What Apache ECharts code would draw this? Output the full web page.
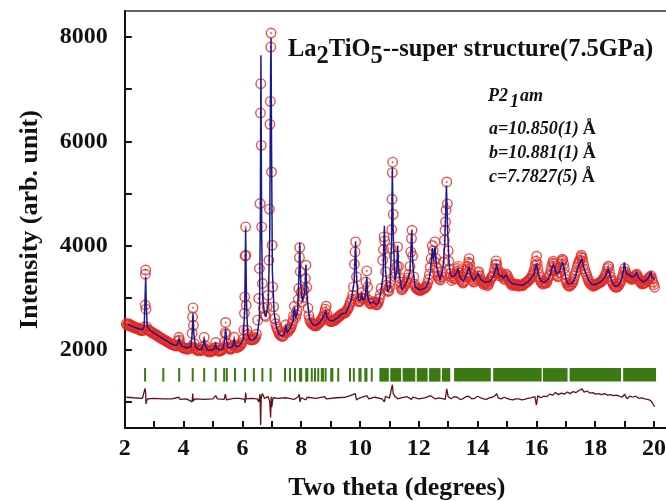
<!DOCTYPE html>
<html>
<head>
<meta charset="utf-8">
<script src="https://cdn.jsdelivr.net/npm/echarts@6/dist/echarts.min.js"></script>
<style>
  html, body { margin: 0; padding: 0; background: #fff; }
  #chart { width: 666px; height: 501px; }
</style>
</head>
<body>
<div id="chart"></div>
<script>
// ---- Synchrotron XRD profile of La2TiO5 (7.5 GPa), Rietveld fit ----

// Observed intensity: [2θ (deg), counts]
const observed = [
  [2.05,2500],[2.08,2470],[2.11,2500],[2.14,2470],[2.17,2490],[2.20,2450],[2.23,2470],[2.26,2440],[2.29,2450],[2.32,2420],
  [2.35,2440],[2.38,2410],[2.41,2420],[2.44,2400],[2.47,2410],[2.50,2380],[2.53,2400],[2.56,2370],[2.59,2390],[2.62,2370],
  [2.65,2440],[2.695,2860],[2.70,3450],[2.71,3530],[2.72,2780],[2.74,2440],[2.77,2390],[2.80,2380],[2.83,2370],[2.86,2360],
  [2.89,2340],[2.92,2340],[2.95,2320],[2.98,2320],[3.01,2300],[3.04,2300],[3.07,2280],[3.10,2280],[3.13,2260],[3.16,2250],
  [3.19,2240],[3.22,2230],[3.25,2220],[3.28,2210],[3.31,2200],[3.34,2190],[3.37,2180],[3.40,2170],[3.43,2160],[3.46,2150],
  [3.49,2140],[3.52,2130],[3.55,2120],[3.58,2110],[3.61,2100],[3.64,2100],[3.67,2090],[3.70,2080],[3.73,2080],[3.76,2070],
  [3.79,2100],[3.82,2170],[3.84,2240],[3.86,2190],[3.89,2100],[3.92,2060],[3.95,2050],[3.98,2040],[4.01,2030],[4.04,2030],
  [4.07,2020],[4.10,2020],[4.13,2010],[4.16,2020],[4.19,2030],[4.22,2030],[4.25,2060],[4.29,2320],[4.305,2630],[4.32,2805],
  [4.335,2470],[4.36,2120],[4.39,2040],[4.42,2010],[4.45,2000],[4.48,1990],[4.51,1990],[4.54,1980],[4.57,1990],[4.60,1990],
  [4.63,2010],[4.66,2060],[4.70,2240],[4.73,2080],[4.76,2010],[4.79,1990],[4.82,1970],[4.85,1970],[4.88,1960],[4.91,1960],
  [4.94,1970],[4.97,1980],[5.00,1990],[5.03,2000],[5.06,2040],[5.09,2140],[5.12,2040],[5.15,1990],[5.18,1980],[5.21,1970],
  [5.24,1980],[5.27,1990],[5.30,2000],[5.33,2010],[5.36,2040],[5.39,2150],[5.41,2330],[5.43,2525],[5.45,2300],[5.47,2120],
  [5.50,2050],[5.53,2030],[5.56,2020],[5.59,2010],[5.62,2020],[5.65,2030],[5.68,2070],[5.72,2240],[5.75,2100],[5.78,2060],
  [5.81,2040],[5.84,2050],[5.87,2060],[5.90,2070],[5.93,2090],[5.96,2110],[5.99,2140],[6.02,2200],[6.05,2380],[6.07,2700],
  [6.08,3016],[6.09,3800],[6.11,4358],[6.12,3815],[6.13,2856],[6.15,2377],[6.18,2290],[6.21,2240],[6.24,2210],[6.27,2200],
  [6.30,2190],[6.33,2190],[6.36,2200],[6.39,2200],[6.42,2220],[6.45,2240],[6.48,2300],[6.52,2569],[6.555,2985],[6.58,3560],
  [6.60,4806],[6.615,6543],[6.625,7106],[6.64,5923],[6.655,4358],[6.68,3272],[6.72,2799],[6.76,2660],[6.80,2640],[6.84,2824],
  [6.87,3048],[6.90,3719],[6.92,4700],[6.935,6326],[6.95,6767],[6.965,7808],[6.975,8077],[6.99,5412],[7.01,4007],[7.03,3207],
  [7.06,2824],[7.10,2600],[7.13,2500],[7.16,2440],[7.19,2400],[7.22,2350],[7.25,2310],[7.28,2290],[7.31,2270],[7.34,2260],
  [7.37,2260],[7.40,2270],[7.44,2330],[7.48,2480],[7.51,2380],[7.54,2340],[7.57,2370],[7.60,2390],[7.63,2410],[7.66,2440],
  [7.69,2500],[7.72,2560],[7.74,2650],[7.77,2837],[7.81,2620],[7.84,2680],[7.86,2750],[7.90,2965],[7.92,3176],[7.94,3770],
  [7.95,3962],[7.97,3500],[8.00,3100],[8.04,2920],[8.07,3000],[8.10,3150],[8.14,3368],[8.16,3623],[8.19,3200],[8.23,2800],
  [8.26,2660],[8.29,2580],[8.32,2530],[8.35,2510],[8.38,2490],[8.41,2480],[8.44,2470],[8.47,2460],[8.50,2460],[8.53,2470],
  [8.56,2490],[8.59,2500],[8.62,2520],[8.65,2540],[8.68,2570],[8.71,2600],[8.74,2630],[8.77,2660],[8.80,2720],[8.82,2780],
  [8.85,2837],[8.88,2680],[8.91,2610],[8.94,2570],[8.97,2560],[9.00,2540],[9.03,2540],[9.06,2550],[9.09,2560],[9.12,2560],
  [9.15,2570],[9.18,2590],[9.21,2600],[9.24,2620],[9.27,2630],[9.30,2640],[9.33,2660],[9.36,2680],[9.39,2690],[9.42,2700],
  [9.45,2700],[9.48,2710],[9.51,2720],[9.54,2740],[9.57,2770],[9.60,2800],[9.63,2840],[9.66,2890],[9.69,2930],[9.72,2970],
  [9.75,3050],[9.78,3207],[9.81,3642],[9.83,3878],[9.85,4070],[9.88,3400],[9.91,2985],[9.94,2940],[9.97,2920],[10.00,2940],
  [10.03,2990],[10.06,3100],[10.09,3000],[10.12,2980],[10.16,3050],[10.20,3300],[10.23,3514],[10.26,3200],[10.30,2950],[10.33,2900],
  [10.36,2880],[10.39,2890],[10.42,2900],[10.45,2920],[10.48,2920],[10.51,2890],[10.54,2870],[10.57,2860],[10.60,2880],[10.63,2920],
  [10.66,2980],[10.69,3060],[10.72,3180],[10.77,3719],[10.80,3924],[10.82,4166],[10.84,4089],[10.87,3500],[10.90,3240],[10.92,3150],
  [10.95,3120],[10.98,3130],[11.01,3200],[11.03,3300],[11.06,3943],[11.08,4307],[11.09,4888],[11.10,5400],[11.11,5600],[11.13,4600],
  [11.16,3800],[11.20,3400],[11.23,3480],[11.25,3600],[11.28,3974],[11.31,3600],[11.34,3380],[11.36,3300],[11.39,3200],[11.42,3150],
  [11.45,3170],[11.48,3200],[11.51,3230],[11.54,3260],[11.57,3290],[11.60,3330],[11.63,3380],[11.66,3450],[11.70,3600],[11.73,3878],
  [11.75,4135],[11.77,4294],[11.79,3800],[11.83,3400],[11.86,3260],[11.88,3210],[11.91,3190],[11.94,3170],[11.97,3160],[12.00,3150],
  [12.03,3140],[12.06,3140],[12.09,3150],[12.12,3160],[12.15,3170],[12.18,3180],[12.21,3190],[12.24,3200],[12.27,3230],[12.30,3280],
  [12.33,3350],[12.36,3450],[12.39,3580],[12.42,3750],[12.46,4000],[12.49,3900],[12.52,3700],[12.55,4070],[12.58,3750],[12.61,3580],
  [12.63,3500],[12.66,3420],[12.68,3380],[12.71,3350],[12.74,3340],[12.77,3400],[12.80,3500],[12.84,3686],[12.87,4102],[12.89,4294],
  [12.91,4453],[12.93,4678],[12.95,5220],[12.97,4800],[13.00,3900],[13.02,3700],[13.04,3550],[13.06,3460],
  [13.09,3400],[13.12,3330],[13.15,3380],[13.18,3420],[13.21,3360],[13.24,3380],[13.27,3450],[13.30,3500],[13.32,3560],[13.34,3600],
  [13.36,3520],[13.38,3480],[13.41,3400],[13.44,3350],[13.47,3310],[13.50,3280],[13.53,3300],[13.56,3330],[13.59,3400],[13.62,3480],
  [13.65,3540],[13.67,3600],[13.69,3680],[13.71,3750],[13.73,3650],[13.75,3550],[13.78,3460],[13.80,3400],[13.83,3340],[13.86,3300],
  [13.89,3310],[13.92,3350],[13.95,3380],[13.98,3420],[14.01,3480],[14.04,3500],[14.07,3420],[14.10,3350],[14.13,3320],[14.16,3300],
  [14.19,3270],[14.22,3250],[14.25,3280],[14.28,3290],[14.31,3260],[14.34,3230],[14.37,3260],[14.40,3300],[14.43,3340],[14.46,3380],
  [14.49,3400],[14.52,3420],[14.55,3480],[14.58,3560],[14.61,3640],[14.63,3706],[14.65,3640],[14.68,3550],[14.71,3470],[14.74,3420],
  [14.77,3450],[14.80,3480],[14.83,3440],[14.86,3400],[14.89,3370],[14.92,3350],[14.95,3400],[14.98,3450],[15.01,3420],[15.04,3380],
  [15.07,3340],[15.10,3300],[15.13,3270],[15.16,3240],[15.19,3260],[15.22,3270],[15.25,3250],[15.28,3230],[15.31,3250],[15.34,3260],
  [15.37,3240],[15.40,3220],[15.43,3240],[15.46,3250],[15.49,3240],[15.52,3230],[15.55,3240],[15.58,3260],[15.61,3280],[15.64,3290],
  [15.67,3300],[15.70,3310],[15.73,3330],[15.76,3350],[15.79,3360],[15.82,3380],[15.85,3420],[15.88,3450],[15.91,3500],[15.94,3550],
  [15.96,3620],[15.98,3700],[16.01,3796],[16.03,3650],[16.05,3550],[16.08,3460],[16.10,3400],[16.13,3340],[16.16,3300],[16.19,3280],
  [16.22,3260],[16.25,3280],[16.28,3300],[16.31,3290],[16.34,3280],[16.37,3330],[16.40,3380],[16.43,3410],[16.46,3450],[16.49,3520],
  [16.52,3600],[16.55,3660],[16.57,3700],[16.60,3650],[16.62,3600],[16.65,3520],[16.68,3450],[16.71,3420],[16.74,3400],[16.77,3480],
  [16.80,3580],[16.83,3650],[16.86,3700],[16.88,3740],[16.90,3720],[16.93,3640],[16.95,3560],[16.98,3440],[17.00,3350],[17.03,3290],
  [17.06,3250],[17.09,3230],[17.12,3220],[17.15,3230],[17.18,3250],[17.21,3270],[17.24,3300],[17.27,3350],[17.30,3420],[17.33,3470],
  [17.36,3520],[17.39,3590],[17.42,3650],[17.45,3690],[17.48,3720],[17.51,3780],[17.53,3815],[17.56,3760],[17.58,3700],[17.61,3620],
  [17.64,3550],[17.67,3500],[17.70,3450],[17.73,3400],[17.76,3350],[17.79,3310],[17.82,3280],[17.85,3260],[17.88,3250],[17.91,3230],
  [17.94,3220],[17.97,3230],[18.00,3240],[18.03,3250],[18.06,3260],[18.09,3270],[18.12,3280],[18.15,3290],[18.18,3300],[18.21,3310],
  [18.24,3330],[18.27,3350],[18.30,3380],[18.33,3410],[18.36,3450],[18.39,3500],[18.42,3560],[18.44,3600],[18.46,3600],[18.49,3480],
  [18.52,3400],[18.55,3340],[18.58,3300],[18.61,3260],[18.64,3230],[18.67,3210],[18.70,3200],[18.73,3200],[18.76,3210],[18.79,3230],
  [18.82,3260],[18.85,3290],[18.88,3330],[18.91,3380],[18.94,3420],[18.97,3500],[19.00,3560],[19.03,3500],[19.06,3450],[19.09,3420],
  [19.12,3400],[19.15,3390],[19.18,3380],[19.21,3370],[19.24,3350],[19.27,3360],[19.30,3380],[19.33,3400],[19.36,3420],[19.39,3440],
  [19.42,3450],[19.45,3400],[19.48,3350],[19.51,3320],[19.54,3300],[19.57,3280],[19.60,3260],[19.63,3270],[19.66,3280],[19.69,3290],
  [19.72,3300],[19.75,3330],[19.78,3350],[19.81,3370],[19.84,3380],[19.87,3400],[19.90,3420],[19.93,3360],[19.96,3300],[19.99,3250],
  [20.02,3200]
];

// Calculated profile: [2θ (deg), counts]
const calculated = [
  [2.10,2490],[2.20,2460],[2.30,2440],[2.40,2420],[2.50,2400],[2.60,2390],[2.66,2450],[2.69,3000],[2.71,3400],[2.73,2900],
  [2.76,2450],[2.85,2380],[3.00,2320],[3.20,2250],[3.40,2180],[3.60,2110],[3.75,2080],[3.82,2150],[3.85,2230],[3.88,2130],
  [3.95,2070],[4.10,2040],[4.25,2060],[4.29,2300],[4.32,2700],[4.35,2300],[4.40,2070],[4.50,2010],[4.62,2010],[4.67,2100],
  [4.70,2230],[4.73,2100],[4.80,2000],[4.95,1990],[5.05,2020],[5.09,2140],[5.12,2030],[5.25,2000],[5.35,2030],[5.40,2200],
  [5.43,2410],[5.46,2200],[5.50,2060],[5.60,2040],[5.68,2070],[5.72,2220],[5.76,2080],[5.85,2060],[5.95,2120],[6.03,2200],
  [6.08,2800],[6.11,4330],[6.14,2900],[6.18,2300],[6.26,2190],[6.40,2200],[6.50,2280],[6.58,2600],[6.61,4500],[6.63,7650],
  [6.655,4200],[6.69,3000],[6.75,2700],[6.80,2640],[6.88,2900],[6.93,4200],[6.96,7400],[6.975,7980],[6.99,6000],[7.02,3500],
  [7.08,2700],[7.15,2450],[7.25,2300],[7.35,2260],[7.42,2300],[7.48,2470],[7.52,2330],[7.62,2400],[7.72,2550],[7.77,2820],
  [7.81,2600],[7.88,2750],[7.93,3600],[7.95,4050],[7.98,3300],[8.04,2920],[8.12,3100],[8.16,3620],[8.20,3000],[8.28,2600],
  [8.40,2480],[8.50,2470],[8.62,2520],[8.72,2600],[8.80,2680],[8.84,2750],[8.88,2620],[8.98,2560],[9.10,2560],[9.25,2620],
  [9.38,2690],[9.50,2700],[9.60,2800],[9.70,2950],[9.80,3300],[9.85,4070],[9.89,3300],[9.95,2950],[10.02,2950],[10.06,3080],
  [10.10,2950],[10.18,3000],[10.23,3400],[10.27,3000],[10.34,2890],[10.45,2920],[10.57,2860],[10.65,2950],[10.72,3150],[10.78,3400],
  [10.83,4380],[10.87,3500],[10.94,3110],[11.02,3200],[11.07,4000],[11.10,5500],[11.13,4200],[11.19,3340],[11.25,3500],[11.28,4000],
  [11.32,3500],[11.42,3150],[11.55,3250],[11.62,3350],[11.70,3500],[11.76,4290],[11.80,3600],[11.87,3210],[12.04,3150],[12.21,3180],
  [12.32,3280],[12.40,3500],[12.46,3950],[12.50,3700],[12.55,3980],[12.60,3600],[12.72,3340],[12.82,3550],[12.88,4000],[12.94,5150],
  [12.98,4300],[13.03,3650],[13.08,3440],[13.13,3400],[13.17,3370],[13.22,3420],[13.27,3470],[13.31,3520],[13.34,3560],[13.38,3430],
  [13.44,3370],[13.51,3320],[13.57,3380],[13.62,3450],[13.67,3520],[13.71,3590],[13.75,3460],[13.80,3400],[13.86,3330],[13.91,3340],
  [13.96,3400],[14.01,3470],[14.05,3430],[14.10,3360],[14.14,3330],[14.20,3310],[14.26,3290],[14.31,3300],[14.36,3270],[14.42,3310],
  [14.48,3360],[14.53,3400],[14.58,3480],[14.62,3560],[14.65,3650],[14.69,3500],[14.74,3420],[14.79,3450],[14.83,3420],[14.88,3370],
  [14.93,3400],[14.97,3440],[15.02,3380],[15.08,3320],[15.13,3290],[15.18,3270],[15.24,3290],[15.30,3260],[15.36,3280],[15.42,3250],
  [15.48,3260],[15.55,3240],[15.62,3270],[15.68,3300],[15.74,3320],[15.80,3360],[15.86,3400],[15.92,3460],[15.97,3580],[16.00,3660],
  [16.04,3520],[16.09,3400],[16.15,3330],[16.21,3300],[16.27,3290],[16.33,3310],[16.40,3360],[16.46,3420],[16.52,3540],[16.58,3650],
  [16.63,3560],[16.68,3450],[16.74,3420],[16.79,3500],[16.84,3600],[16.89,3690],[16.94,3560],[16.99,3400],[17.04,3300],[17.10,3260],
  [17.16,3250],[17.22,3280],[17.28,3330],[17.34,3420],[17.40,3560],[17.45,3630],[17.50,3680],[17.54,3750],[17.59,3620],[17.64,3520],
  [17.70,3440],[17.76,3360],[17.82,3300],[17.88,3260],[17.94,3240],[18.00,3250],[18.07,3270],[18.14,3290],[18.20,3310],[18.27,3340],
  [18.33,3400],[18.39,3470],[18.45,3560],[18.50,3430],[18.56,3320],[18.62,3260],[18.68,3220],[18.73,3210],[18.79,3240],[18.85,3290],
  [18.91,3380],[18.96,3520],[18.99,3680],[19.03,3530],[19.08,3450],[19.14,3420],[19.19,3430],[19.25,3390],[19.31,3380],[19.36,3420],
  [19.41,3500],[19.46,3400],[19.52,3350],[19.58,3320],[19.64,3300],[19.70,3330],[19.76,3350],[19.82,3390],[19.86,3420],[19.89,3500],
  [19.93,3400],[19.97,3370],[20.01,3350]
];

// Difference curve (obs − calc, offset below the pattern): [2θ, counts]
const difference = [
  [2.05,1090],[2.30,1080],[2.60,1070],[2.66,1050],[2.69,1260],[2.71,1180],[2.72,960],[2.74,1020],[2.78,1060],[3.00,1070],
  [3.30,1060],[3.60,1060],[3.84,1090],[3.88,1050],[4.10,1060],[4.29,1000],[4.31,1160],[4.33,1020],[4.40,1060],[4.70,1050],
  [4.75,1070],[5.00,1060],[5.09,1120],[5.15,1060],[5.38,1050],[5.42,1150],[5.46,1040],[5.70,1070],[5.75,1040],[5.90,1070],
  [6.07,1050],[6.09,980],[6.11,1180],[6.13,1060],[6.30,1070],[6.50,1060],[6.56,1000],[6.60,1150],[6.62,560],[6.64,1090],
  [6.68,1160],[6.75,1070],[6.88,1100],[6.93,1000],[6.96,700],[6.98,1100],[7.00,900],[7.04,1080],[7.20,1070],[7.50,1080],
  [7.77,1050],[7.90,1100],[7.93,1150],[7.96,1000],[8.00,1080],[8.16,1040],[8.20,1090],[8.50,1070],[8.80,1100],[8.85,1060],
  [9.20,1080],[9.50,1090],[9.62,1110],[9.84,1160],[9.88,1040],[10.00,1080],[10.23,1120],[10.30,1060],[10.50,1090],[10.75,1060],
  [10.83,1000],[10.87,1110],[11.00,1070],[11.05,1040],[11.10,1330],[11.13,1160],[11.20,1100],[11.28,1060],[11.40,1080],[11.60,1100],
  [11.75,1050],[11.80,1090],[12.00,1060],[12.20,1080],[12.40,1120],[12.55,1060],[12.70,1080],[12.90,1050],[12.95,1250],[13.00,1100],
  [13.10,1060],[13.20,1100],[13.30,1090],[13.40,1050],[13.50,1060],[13.60,1100],[13.70,1110],[13.80,1060],[13.90,1070],[14.00,1110],
  [14.10,1080],[14.20,1060],[14.30,1050],[14.40,1080],[14.50,1090],[14.60,1120],[14.65,1160],[14.70,1080],[14.80,1060],[14.90,1090],
  [15.00,1070],[15.10,1050],[15.20,1040],[15.30,1060],[15.40,1060],[15.50,1040],[15.60,1050],[15.70,1070],[15.80,1080],[15.95,1100],
  [16.00,940],[16.05,1120],[16.15,1080],[16.25,1110],[16.35,1100],[16.45,1150],[16.55,1130],[16.65,1180],[16.75,1140],[16.85,1170],
  [16.95,1150],[17.05,1190],[17.15,1160],[17.25,1200],[17.35,1180],[17.45,1220],[17.55,1250],[17.62,1190],[17.72,1210],[17.82,1170],
  [17.92,1180],[18.02,1150],[18.12,1160],[18.22,1140],[18.32,1160],[18.42,1130],[18.52,1140],[18.62,1120],[18.72,1130],[18.82,1110],
  [18.92,1090],[19.00,1150],[19.08,1060],[19.18,1110],[19.28,1090],[19.38,1110],[19.48,1070],[19.58,1080],[19.68,1060],[19.78,1050],
  [19.88,1030],[19.95,980],[20.02,910]
];

// Bragg reflection positions (2θ); dense runs are given as [from, to] spans
const braggPositions = [
  2.69, 3.31, 3.85, 4.31, 4.70, 5.09, 5.38, 5.47, 5.75, 6.09, 6.39, 6.68, 6.96,
  7.45, 7.62, 7.79, 7.96, 8.00, 8.17, 8.21, 8.36, 8.47, 8.58, 8.70, 8.74, 8.83, 9.02, 9.06, 9.26,
  9.66, 9.79, 9.98, 10.02, 10.18, 10.22, 10.40
];
const braggSpans = [
  [10.66, 10.98], [11.03, 11.40], [11.45, 11.88], [11.93, 12.30], [12.35, 12.74], [12.79, 13.07],
  [13.20, 14.45], [14.53, 16.18], [16.22, 17.06], [17.13, 18.88], [18.95, 20.07]
];
const BRAGG_TOP = 1650;
const BRAGG_BOTTOM = 1390;

// Axis ticks
const yTickValues = [1000,2000,3000,4000,5000,6000,7000,8000];
const yLabelValues = [2000,4000,6000,8000];

const COLOR_OBS = '#e42a24';
const COLOR_CALC = '#1b1a8c';
const COLOR_BRAGG = '#3b7a13';
const COLOR_DIFF = '#641016';
const SERIF = '"Liberation Serif", "Times New Roman", serif';

const braggData = braggPositions.map(p => [p, p]).concat(braggSpans);

// Helper: lay out a run of text pieces (with subscripts) left to right
const measureCtx = document.createElement('canvas').getContext('2d');
function textRun(pieces, x0, baseline, size, style, subDrop) {
  const out = [];
  let x = x0;
  pieces.forEach(p => {
    const fs = p.size || size;
    const font = (p.style || style) + ' ' + fs + 'px ' + SERIF;
    measureCtx.font = font;
    const w = measureCtx.measureText(p.t).width;
    const yb = baseline + (p.sub ? subDrop : 0);
    out.push({
      type: 'text',
      x: x, y: yb - 0.34 * fs,
      style: {
        text: p.t, font: font, fill: '#111',
        align: 'left', verticalAlign: 'middle',
        textAlign: 'left', textVerticalAlign: 'middle'
      }
    });
    x += w + (p.gap || 0);
  });
  return out;
}

const graphics = []
  .concat(textRun([
    {t: 'La'}, {t: '2', sub: true}, {t: 'TiO'}, {t: '5', sub: true},
    {t: '--super structure(7.5GPa)'}
  ], 288, 58, 24.5, 'bold', 7))
  .concat(textRun([{t: 'P2', gap: 2}, {t: '1', sub: true, gap: 1}, {t: 'am'}], 488, 102, 18, 'italic bold', 6))
  .concat(textRun([{t: 'a=10.850(1)', gap: 4}, {t: 'Å', style: 'bold'}], 489, 135, 18, 'italic bold', 0))
  .concat(textRun([{t: 'b=10.881(1)', gap: 4}, {t: 'Å', style: 'bold'}], 489, 159, 18, 'italic bold', 0))
  .concat(textRun([{t: 'c=7.7827(5)', gap: 4}, {t: 'Å', style: 'bold'}], 489, 183, 18, 'italic bold', 0));

const chart = echarts.init(document.getElementById('chart'), null, { renderer: 'canvas' });

chart.setOption({
  animation: false,
  backgroundColor: '#fff',
  grid: {
    left: 124.8, right: -2.7, top: 11, bottom: 73, outerBoundsMode: 'none',
    show: true, borderColor: '#333', borderWidth: 1.5, backgroundColor: 'transparent'
  },
  xAxis: {
    type: 'value', min: 2, max: 20.5, interval: 1,
    name: 'Two theta (degrees)', nameLocation: 'middle', nameGap: 47,
    nameTextStyle: { fontFamily: SERIF, fontWeight: 'bold', fontSize: 26, color: '#111' },
    axisLine: { show: true, onZero: false, lineStyle: { color: '#111', width: 2 } },
    axisTick: { show: true, inside: true, length: 7, lineStyle: { color: '#111', width: 2 } },
    axisLabel: {
      margin: 9, fontFamily: SERIF, fontWeight: 'bold', fontSize: 24, color: '#111',
      formatter: v => (Math.abs(v % 2) < 1e-9 ? String(v) : '')
    },
    splitLine: { show: false }
  },
  yAxis: {
    type: 'value', min: 500, max: 8500,
    name: 'Intensity (arb. unit)', nameLocation: 'middle', nameGap: 82,
    nameTextStyle: { fontFamily: SERIF, fontWeight: 'bold', fontSize: 26, color: '#111' },
    axisLine: { show: true, onZero: false, lineStyle: { color: '#111', width: 2 } },
    axisTick: { show: true, inside: true, length: 7, customValues: yTickValues, lineStyle: { color: '#111', width: 2 } },
    axisLabel: {
      customValues: yLabelValues, margin: 17, fontFamily: SERIF, fontWeight: 'bold', fontSize: 24, color: '#111',
      formatter: v => String(v)
    },
    splitLine: { show: false }
  },
  graphic: graphics,
  series: [
    {
      name: 'Observed', type: 'scatter', data: observed,
      symbol: 'circle', symbolSize: 9.5,
      itemStyle: { color: 'rgba(0,0,0,0)', borderColor: COLOR_OBS, borderWidth: 1.4 },
      z: 2
    },
    {
      // centre dot of each observed marker
      name: 'Observed centre', type: 'scatter', data: observed,
      symbol: 'circle', symbolSize: 2,
      itemStyle: { color: COLOR_OBS },
      z: 2
    },
    {
      name: 'Calculated', type: 'line', data: calculated,
      showSymbol: false, lineStyle: { color: COLOR_CALC, width: 1.5 }, z: 3
    },
    {
      name: 'Bragg', type: 'custom', data: braggData,
      encode: { x: [0, 1] },
      renderItem: function (params, api) {
        const a = api.coord([api.value(0), BRAGG_TOP]);
        const b = api.coord([api.value(1), BRAGG_BOTTOM]);
        const span = b[0] - a[0];
        const w = Math.max(span, 2);
        const left = span < 2 ? a[0] - 1 : a[0];
        return { type: 'rect', shape: { x: left, y: a[1], width: w, height: b[1] - a[1] }, style: { fill: COLOR_BRAGG } };
      },
      z: 2
    },
    {
      name: 'Difference', type: 'line', data: difference,
      showSymbol: false, lineStyle: { color: COLOR_DIFF, width: 1.3 }, z: 2
    }
  ]
});
</script>
</body>
</html>
